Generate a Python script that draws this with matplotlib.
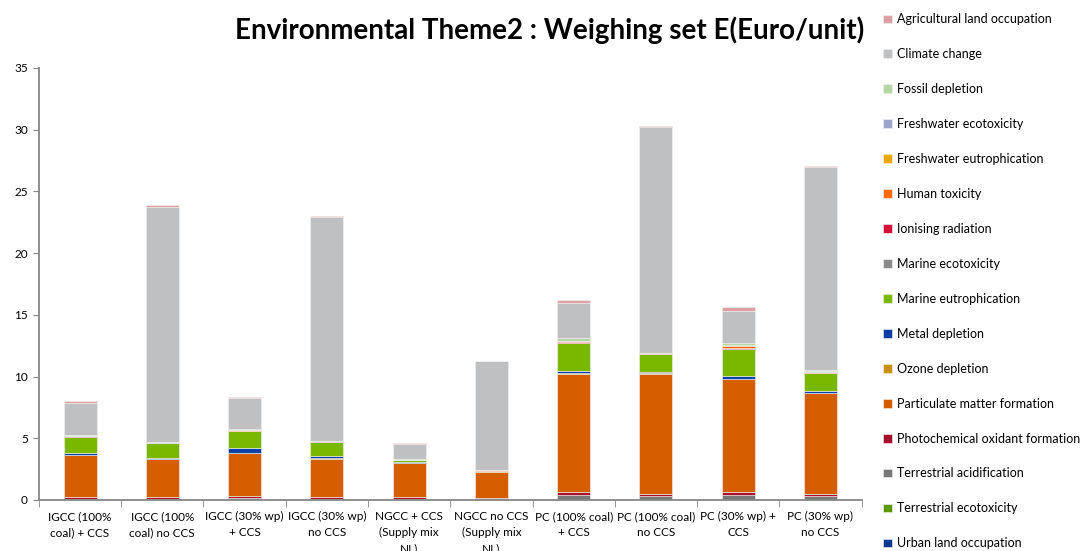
import matplotlib
matplotlib.use("Agg")
import matplotlib.pyplot as plt
import numpy as np

plt.rcParams["font.family"] = ["Lato", "DejaVu Sans"]

categories = [
    "IGCC (100%\ncoal) + CCS", "IGCC (100%\ncoal) no CCS", "IGCC (30% wp)\n+ CCS",
    "IGCC (30% wp)\nno CCS", "NGCC + CCS\n(Supply mix\nNL)", "NGCC no CCS\n(Supply mix\nNL)",
    "PC (100% coal)\n+ CCS", "PC (100% coal)\nno CCS", "PC (30% wp) +\nCCS", "PC (30% wp)\nno CCS",
]

# impact categories, listed from the bottom of each stack upwards
urban_land_occupation = [0.01, 0.01, 0.01, 0.01, 0.01, 0.01, 0.01, 0.01, 0.01, 0.01]
terrestrial_ecotoxicity = [0.01, 0.01, 0.01, 0.01, 0.01, 0.01, 0.01, 0.01, 0.01, 0.01]
terrestrial_acidification = [0.07, 0.05, 0.10, 0.06, 0.04, 0.06, 0.38, 0.33, 0.38, 0.29]
photochemical_oxidant = [0.18, 0.15, 0.20, 0.14, 0.16, 0.10, 0.27, 0.16, 0.25, 0.18]
particulate_matter = [3.35, 3.08, 3.46, 3.13, 2.75, 2.06, 9.57, 9.73, 9.13, 8.16]
ozone_depletion = [0.02, 0.02, 0.02, 0.02, 0.02, 0.08, 0.02, 0.02, 0.02, 0.02]
metal_depletion = [0.19, 0.11, 0.44, 0.20, 0.07, 0.01, 0.22, 0.11, 0.27, 0.16]
marine_eutrophication = [1.30, 1.16, 1.35, 1.11, 0.16, 0.02, 2.22, 1.44, 2.17, 1.44]
marine_ecotoxicity = [0.01, 0.01, 0.01, 0.01, 0.01, 0.01, 0.01, 0.01, 0.01, 0.01]
ionising_radiation = [0.01, 0.01, 0.02, 0.01, 0.01, 0.01, 0.06, 0.02, 0.08, 0.02]
human_toxicity = [0.05, 0.04, 0.08, 0.05, 0.02, 0.04, 0.10, 0.07, 0.18, 0.10]
freshwater_eutrophication = [0.005, 0.005, 0.005, 0.005, 0.005, 0.005, 0.01, 0.005, 0.01, 0.005]
freshwater_ecotoxicity = [0.005, 0.005, 0.005, 0.005, 0.005, 0.005, 0.005, 0.005, 0.005, 0.005]
fossil_depletion = [0.02, 0.03, 0.02, 0.03, 0.04, 0.04, 0.25, 0.02, 0.23, 0.12]
climate_change = [2.66, 19.07, 2.51, 18.12, 1.21, 8.79, 2.81, 18.26, 2.57, 16.42]
agricultural_land = [0.14, 0.10, 0.11, 0.10, 0.13, 0.05, 0.27, 0.10, 0.32, 0.10]

series = [
    ("Urban land occupation", urban_land_occupation, "#0b3a8f"),
    ("Terrestrial ecotoxicity", terrestrial_ecotoxicity, "#5b9a06"),
    ("Terrestrial acidification", terrestrial_acidification, "#777777"),
    ("Photochemical oxidant formation", photochemical_oxidant, "#a6102f"),
    ("Particulate matter formation", particulate_matter, "#d45e00"),
    ("Ozone depletion", ozone_depletion, "#c8900c"),
    ("Metal depletion", metal_depletion, "#0c3fa8"),
    ("Marine eutrophication", marine_eutrophication, "#7ab800"),
    ("Marine ecotoxicity", marine_ecotoxicity, "#8c8c8c"),
    ("Ionising radiation", ionising_radiation, "#d40f3c"),
    ("Human toxicity", human_toxicity, "#ff6a10"),
    ("Freshwater eutrophication", freshwater_eutrophication, "#e8aa00"),
    ("Freshwater ecotoxicity", freshwater_ecotoxicity, "#9ea3cc"),
    ("Fossil depletion", fossil_depletion, "#b5d6a0"),
    ("Climate change", climate_change, "#bfc0c2"),
    ("Agricultural land occupation", agricultural_land, "#dca0a6"),
]

fig = plt.figure(figsize=(10.81, 5.51), dpi=100)
ax = fig.add_axes([0.036, 0.0926, 0.761, 0.784])

x = np.arange(len(categories))
bottom = np.zeros(len(categories))
handles = []
for name, vals, color in series:
    vals = np.asarray(vals, dtype=float)
    h = ax.bar(x, vals, width=0.4, bottom=bottom, color=color, label=name,
               edgecolor="#f2f2f2", linewidth=0.4)
    handles.append(h)
    bottom += vals

ax.set_xlim(-0.5, len(categories) - 0.5)
ax.set_ylim(0, 35)
ax.set_yticks(np.arange(0, 36, 5))
ax.tick_params(axis="y", labelsize=8.5, length=4, color="#868686", pad=4)
ax.set_xticks(x)
ax.set_xticklabels(categories, fontsize=8.5, linespacing=1.55)
ax.tick_params(axis="x", which="major", length=0, pad=8)
ax.set_xticks(np.arange(-0.5, len(categories), 1.0), minor=True)
ax.tick_params(axis="x", which="minor", length=5, color="#868686")

for side in ("top", "right"):
    ax.spines[side].set_visible(False)
for side in ("left", "bottom"):
    ax.spines[side].set_color("#868686")
    ax.spines[side].set_linewidth(1.3)

fig.text(0.508, 0.946, "Environmental Theme2 : Weighing set E(Euro/unit)",
         ha="center", va="center", fontsize=20, fontweight="bold")

fig.legend(handles[::-1], [s[0] for s in series][::-1],
           loc="upper left", bbox_to_anchor=(0.812, 0.985), frameon=False,
           fontsize=9, handlelength=0.7, handleheight=0.7, handletextpad=0.4,
           labelspacing=1.835, borderaxespad=0)

fig.savefig("out.png", dpi=100)
